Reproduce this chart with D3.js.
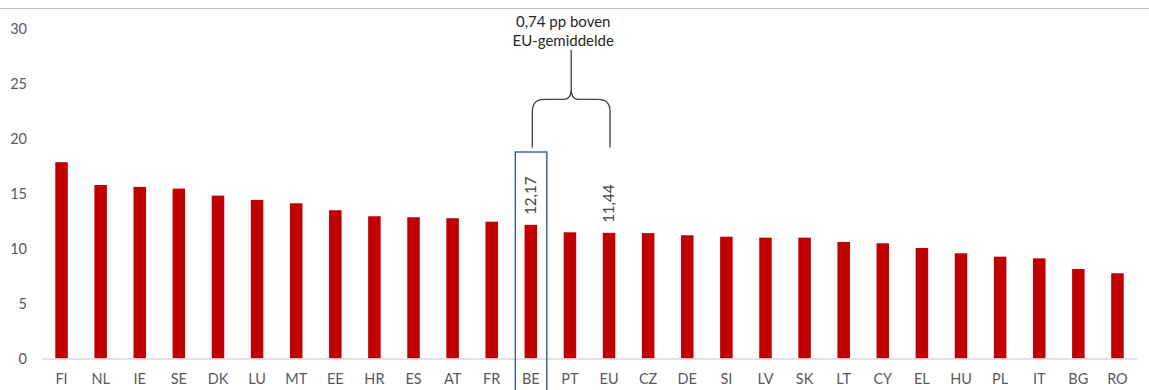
<!DOCTYPE html>
<html>
<head>
<meta charset="utf-8">
<script src="https://cdn.jsdelivr.net/npm/d3@7"></script>
<style>
  body { margin: 0; background: #fff; }
  svg { display: block; font-family: Lato, "Open Sans", sans-serif; }
</style>
</head>
<body>
<div id="chart"></div>
<script>
var width = 1149, height = 390;

// data
const countries = ['FI','NL','IE','SE','DK','LU','MT','EE','HR','ES','AT','FR','BE','PT','EU','CZ','DE','SI','LV','SK','LT','CY','EL','HU','PL','IT','BG','RO'];
const values = [17.87, 15.8, 15.62, 15.47, 14.83, 14.44, 14.13, 13.5, 12.95, 12.86, 12.77, 12.46, 12.17, 11.49, 11.44, 11.42, 11.22, 11.09, 11.0, 11.0, 10.61, 10.49, 10.06, 9.58, 9.27, 9.12, 8.15, 7.76];
const yTicks = [0, 5, 10, 15, 20, 25, 30];
const labelled = {BE: '12,17', EU: '11,44'};
const noteLines = ['0,74 pp boven', 'EU-gemiddelde'];
const noteFrom = 'BE', noteTo = 'EU';

var svg = d3.select('#chart')
	.append('svg')
	.attr('width', width)
	.attr('height', height);

var x = d3.scaleBand()
	.domain(countries)
	.range([42, 1137])
	.paddingInner(0.68)
	.paddingOuter(0.34);

var y = d3.scaleLinear()
	.domain([0, 30])
	.range([358.5, 29]);

// top border line
svg.append('line')
	.attr('x1', 0).attr('x2', width)
	.attr('y1', 8.5).attr('y2', 8.5)
	.style('stroke', '#bfbfbf')
	.style('stroke-width', 1);

// y tick labels
svg.selectAll('.ytick')
	.data(yTicks)
	.enter()
	.append('text')
	.attr('class', 'ytick')
	.attr('x', 27)
	.attr('y', function(d){ return y(d); })
	.attr('dy', '0.35em')
	.attr('text-anchor', 'end')
	.style('font-size', '14.5px')
	.style('fill', '#595959')
	.text(function(d){ return d; });

// bars
svg.selectAll('.bar')
	.data(countries)
	.enter()
	.append('rect')
	.attr('class', 'bar')
	.attr('x', function(d){ return x(d); })
	.attr('width', x.bandwidth())
	.attr('y', function(d, i){ return y(values[i]); })
	.attr('height', function(d, i){ return y(0) - y(values[i]); })
	.style('fill', '#c00000');

// baseline
svg.append('line')
	.attr('x1', 42).attr('x2', 1137)
	.attr('y1', y(0) + 0.5).attr('y2', y(0) + 0.5)
	.style('stroke', '#d9d9d9')
	.style('stroke-width', 1.5);

// x labels
svg.selectAll('.xlab')
	.data(countries)
	.enter()
	.append('text')
	.attr('class', 'xlab')
	.attr('x', function(d){ return x(d) + x.bandwidth()/2; })
	.attr('y', 379)
	.attr('dy', '0.35em')
	.attr('text-anchor', 'middle')
	.style('font-size', '14.5px')
	.style('fill', '#595959')
	.text(function(d){ return d; });

// value labels, rotated
Object.keys(labelled).forEach(function(k){
	var i = countries.indexOf(k);
	var cx = x(k) + x.bandwidth()/2;
	svg.append('text')
		.attr('transform', 'translate(' + cx + ',' + (y(values[i]) - 10) + ') rotate(-90)')
		.attr('dy', '0.35em')
		.style('font-size', '15px')
		.style('fill', '#404040')
		.text(labelled[k]);
});

// box around BE
var bx = x(noteFrom) + x.bandwidth()/2;
svg.append('rect')
	.attr('x', bx - 15.5)
	.attr('y', y(18.8))
	.attr('width', 31.5)
	.attr('height', 260)
	.style('fill', 'none')
	.style('stroke', '#4064a8')
	.style('stroke-width', 1.5);

// curly brace from BE to EU
var L = x(noteFrom) + x.bandwidth()/2 + 1.5;
var R = x(noteTo) + x.bandwidth()/2 + 1;
var M = (L + R) / 2;
var yb = y(19.2), yh = y(23.6), yt = y(28.1);
var r = 12;
var p = 'M' + L + ',' + yb + 'V' + (yh + r) + 'Q' + L + ',' + yh + ' ' + (L + r) + ',' + yh +
	'H' + (M - 7) + 'Q' + M + ',' + yh + ' ' + M + ',' + (yh - 10) + 'V' + yt +
	'M' + R + ',' + yb + 'V' + (yh + r) + 'Q' + R + ',' + yh + ' ' + (R - r) + ',' + yh +
	'H' + (M + 7) + 'Q' + M + ',' + yh + ' ' + M + ',' + (yh - 10);
svg.append('path')
	.attr('d', p)
	.style('fill', 'none')
	.style('stroke', '#404040')
	.style('stroke-width', 1.3);

svg.selectAll('.note')
	.data(noteLines)
	.enter()
	.append('text')
	.attr('class', 'note')
	.attr('x', M - 8)
	.attr('y', function(d, i){ return 27 + i*19; })
	.attr('text-anchor', 'middle')
	.style('font-size', '15px')
	.style('fill', '#262626')
	.text(function(d){ return d; });
</script>
</body>
</html>
